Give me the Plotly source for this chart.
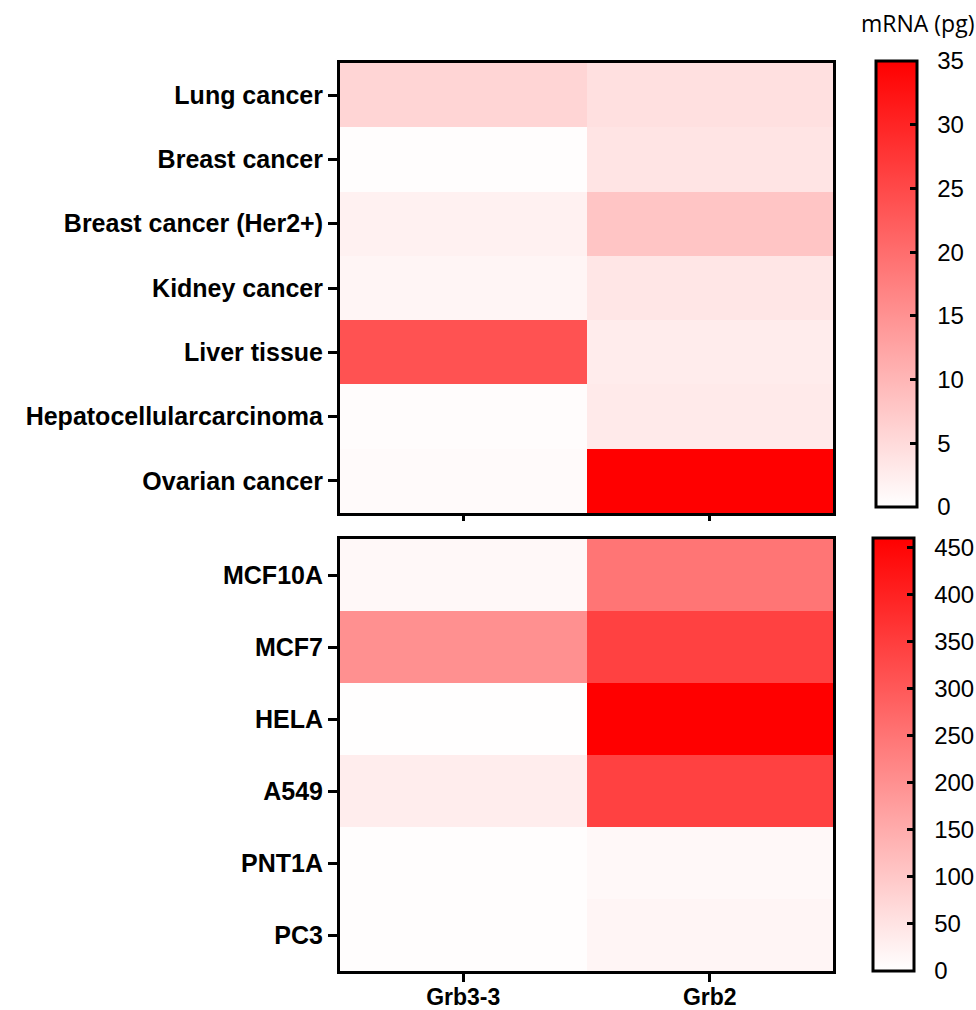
import plotly.graph_objects as go

# Tissue samples (top panel)
tissues = ["Lung cancer", "Breast cancer", "Breast cancer (Her2+)", "Kidney cancer",
           "Liver tissue", "Hepatocellularcarcinoma", "Ovarian cancer"]
# Cell lines (bottom panel)
cell_lines = ["MCF10A", "MCF7", "HELA", "A549", "PNT1A", "PC3"]
genes = ["Grb3-3", "Grb2"]

# mRNA (pg) per gene
tissue_grb33 = [5.8, 0.3, 1.9, 1.4, 23.7, 0.4, 0.7]
tissue_grb2 = [4.3, 3.7, 8.0, 3.4, 2.6, 2.9, 35.0]
cell_grb33 = [12, 200, 2, 32, 3, 3]
cell_grb2 = [249, 343, 460, 343, 13, 18]

top_ticks = [0, 5, 10, 15, 20, 25, 30, 35]
bottom_ticks = [0, 50, 100, 150, 200, 250, 300, 350, 400, 450]
top_max = 35
bottom_max = 460

W, H = 976, 1010
red_scale = [[0, "#ffffff"], [1, "#ff0000"]]

fig = go.Figure()
fig.add_trace(go.Heatmap(
    x=genes, y=tissues,
    z=[[a, b] for a, b in zip(tissue_grb33, tissue_grb2)],
    coloraxis="coloraxis", xaxis="x", yaxis="y",
))
fig.add_trace(go.Heatmap(
    x=genes, y=cell_lines,
    z=[[a, b] for a, b in zip(cell_grb33, cell_grb2)],
    coloraxis="coloraxis2", xaxis="x2", yaxis="y2",
))

label_font = dict(family="Liberation Sans", size=25, color="black", weight="bold")
xlabel_font = dict(family="Liberation Sans", size=23, color="black", weight="bold")
num_font = dict(family="Liberation Sans", size=24, color="black")

x_dom = [340 / W, 833 / W]
top_dom = [1 - 513 / H, 1 - 63 / H]
bot_dom = [1 - 971 / H, 1 - 539 / H]

common_axis = dict(showline=True, mirror=True, linewidth=3, linecolor="black",
                   showgrid=False, zeroline=False, ticks="outside", tickwidth=3,
                   tickcolor="black", type="category")

CB_THICK = 41
CB_TICK = 8
PAD = "\u00a0\u00a0"


def colorbar(ticks, x, y0, y1):
    return dict(
        thickness=CB_THICK, thicknessmode="pixels",
        len=(y1 - y0) / H, lenmode="fraction",
        x=x / W, xanchor="left", y=1 - (y0 + y1) / 2 / H, yanchor="middle",
        xpad=0, ypad=0,
        outlinewidth=3, outlinecolor="black",
        ticks="inside", ticklen=CB_TICK, tickwidth=3, tickcolor="black",
        tickvals=ticks, ticktext=[PAD + str(t) for t in ticks],
        tickfont=num_font,
    )


TOP_CB = (876, 61, 507)
BOT_CB = (873, 538, 971)

fig.update_layout(
    width=W, height=H,
    margin=dict(l=0, r=0, t=0, b=0, autoexpand=False),
    paper_bgcolor="white", plot_bgcolor="white",
    xaxis=dict(domain=x_dom, anchor="y", showticklabels=False, ticklen=5, **common_axis),
    yaxis=dict(domain=top_dom, anchor="x", autorange="reversed", ticklen=9,
               tickfont=label_font, **common_axis),
    xaxis2=dict(domain=x_dom, anchor="y2", ticklen=8, tickfont=xlabel_font,
                ticklabelstandoff=-5, **common_axis),
    yaxis2=dict(domain=bot_dom, anchor="x2", autorange="reversed", ticklen=9,
                tickfont=label_font, **common_axis),
    coloraxis=dict(colorscale=red_scale, cmin=0, cmax=top_max,
                   colorbar=colorbar(top_ticks, *TOP_CB)),
    coloraxis2=dict(colorscale=red_scale, cmin=0, cmax=bottom_max,
                    colorbar=colorbar(bottom_ticks, *BOT_CB)),
    annotations=[dict(
        text="mRNA (pg)", xref="paper", yref="paper",
        x=1.0, y=1 - 23 / H, xanchor="right", yanchor="middle",
        showarrow=False, font=dict(family="Open Sans", size=23, color="black"),
    )],
)

fig.write_html("out.html")
